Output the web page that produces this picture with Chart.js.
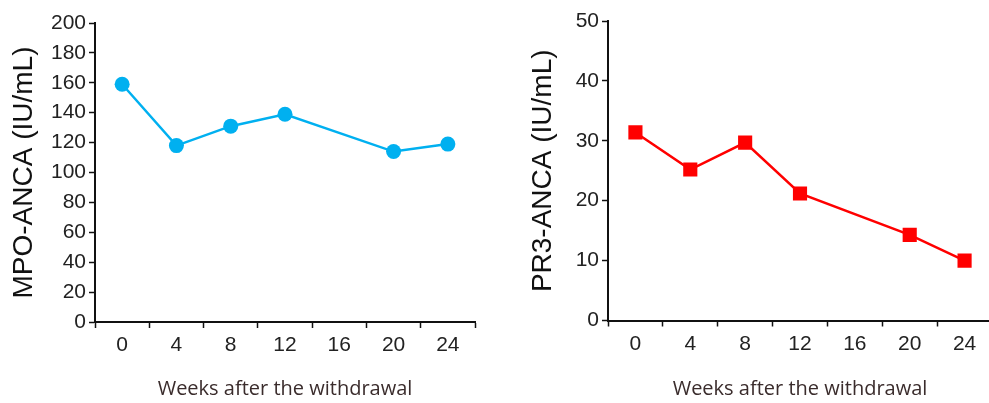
<!DOCTYPE html>
<html>
<head>
<meta charset="utf-8">
<script src="https://cdn.jsdelivr.net/npm/chart.js@4/dist/chart.umd.min.js"></script>
<style>
  body { margin: 0; background: #fff; overflow: hidden; }
  #wrap { position: relative; width: 989px; height: 403px; overflow: hidden; }
  canvas { position: absolute; top: 0; }
</style>
</head>
<body>
<div id="wrap">
  <canvas id="mpo" width="490" height="403" style="left:0"></canvas>
  <canvas id="pr3" width="482" height="403" style="left:520px"></canvas>
</div>
<script>
// weeks after the withdrawal
const weeks = [0, 4, 8, 12, 20, 24];
const xTicks = [0, 4, 8, 12, 16, 20, 24];

// MPO-ANCA (IU/mL)
const mpoValues = [159, 118, 131, 139, 114, 119];
// PR3-ANCA (IU/mL)
const pr3Values = [31.4, 25.2, 29.7, 21.2, 14.3, 10.0];

const tickFont = { family: "'Liberation Sans', Arial, sans-serif", size: 21 };
const titleFont = { family: "'Liberation Sans', Arial, sans-serif", size: 28 };

function makeChart(id, values, yMax, yStep, yTitle, color, pointStyle, pointRadius, opts) {
    const ctx = document.getElementById(id).getContext("2d");
    return new Chart(ctx, {
        type: "line",
        data: {
            datasets: [{
                data: weeks.map((w, i) => ({ x: w, y: values[i] })),
                borderColor: color,
                backgroundColor: color,
                borderWidth: 2.5,
                pointStyle: pointStyle,
                pointRadius: pointRadius,
                pointBorderWidth: 0,
                pointBackgroundColor: color,
                tension: 0
            }]
        },
        options: {
            responsive: false,
            animation: false,
            layout: { padding: { left: 0, top: opts.top, right: opts.right, bottom: 0 } },
            plugins: { legend: { display: false }, tooltip: { enabled: false } },
            scales: {
                x: {
                    type: "linear",
                    min: -2,
                    max: 26,
                    afterFit: (scale) => { scale.height = opts.xHeight; },
                    border: { display: true, color: "#111", width: 2 },
                    grid: {
                        drawOnChartArea: false,
                        tickLength: 6,
                        tickWidth: 1.5,
                        tickColor: (c) => (c.tick && c.tick.value % 4 === 0) ? "rgba(0,0,0,0)" : "#111"
                    },
                    ticks: {
                        stepSize: 2,
                        autoSkip: false,
                        maxRotation: 0,
                        padding: 5,
                        color: "#222",
                        font: tickFont,
                        callback: (v) => xTicks.includes(v) ? String(v) : ""
                    },
                    title: {
                        display: true,
                        text: "Weeks after the withdrawal",
                        color: "#3a2c2c",
                        font: { family: "'Open Sans', sans-serif", size: 20 },
                        padding: { top: 4, bottom: 2 }
                    }
                },
                y: {
                    min: 0,
                    max: yMax,
                    afterFit: (scale) => { scale.width = opts.yWidth; },
                    border: { display: true, color: "#111", width: 2 },
                    grid: {
                        drawOnChartArea: false,
                        tickLength: 6,
                        tickWidth: 1.5,
                        tickColor: "#111"
                    },
                    ticks: {
                        stepSize: yStep,
                        padding: 3,
                        color: "#222",
                        font: tickFont
                    },
                    title: {
                        display: true,
                        text: yTitle,
                        color: "#111",
                        font: titleFont,
                        padding: { top: opts.titlePad, bottom: 0 }
                    }
                }
            }
        }
    });
}

makeChart("mpo", mpoValues, 200, 20, "MPO-ANCA (IU/mL)", "#00b0f0", "circle", 7.5,
    { top: 23, right: 15, xHeight: 81, yWidth: 95, titlePad: 7 });
makeChart("pr3", pr3Values, 50, 10, "PR3-ANCA (IU/mL)", "#ff0000", "rect", 10,
    { top: 21, right: 0, xHeight: 82.5, yWidth: 88, titlePad: 6 });
</script>
</body>
</html>
